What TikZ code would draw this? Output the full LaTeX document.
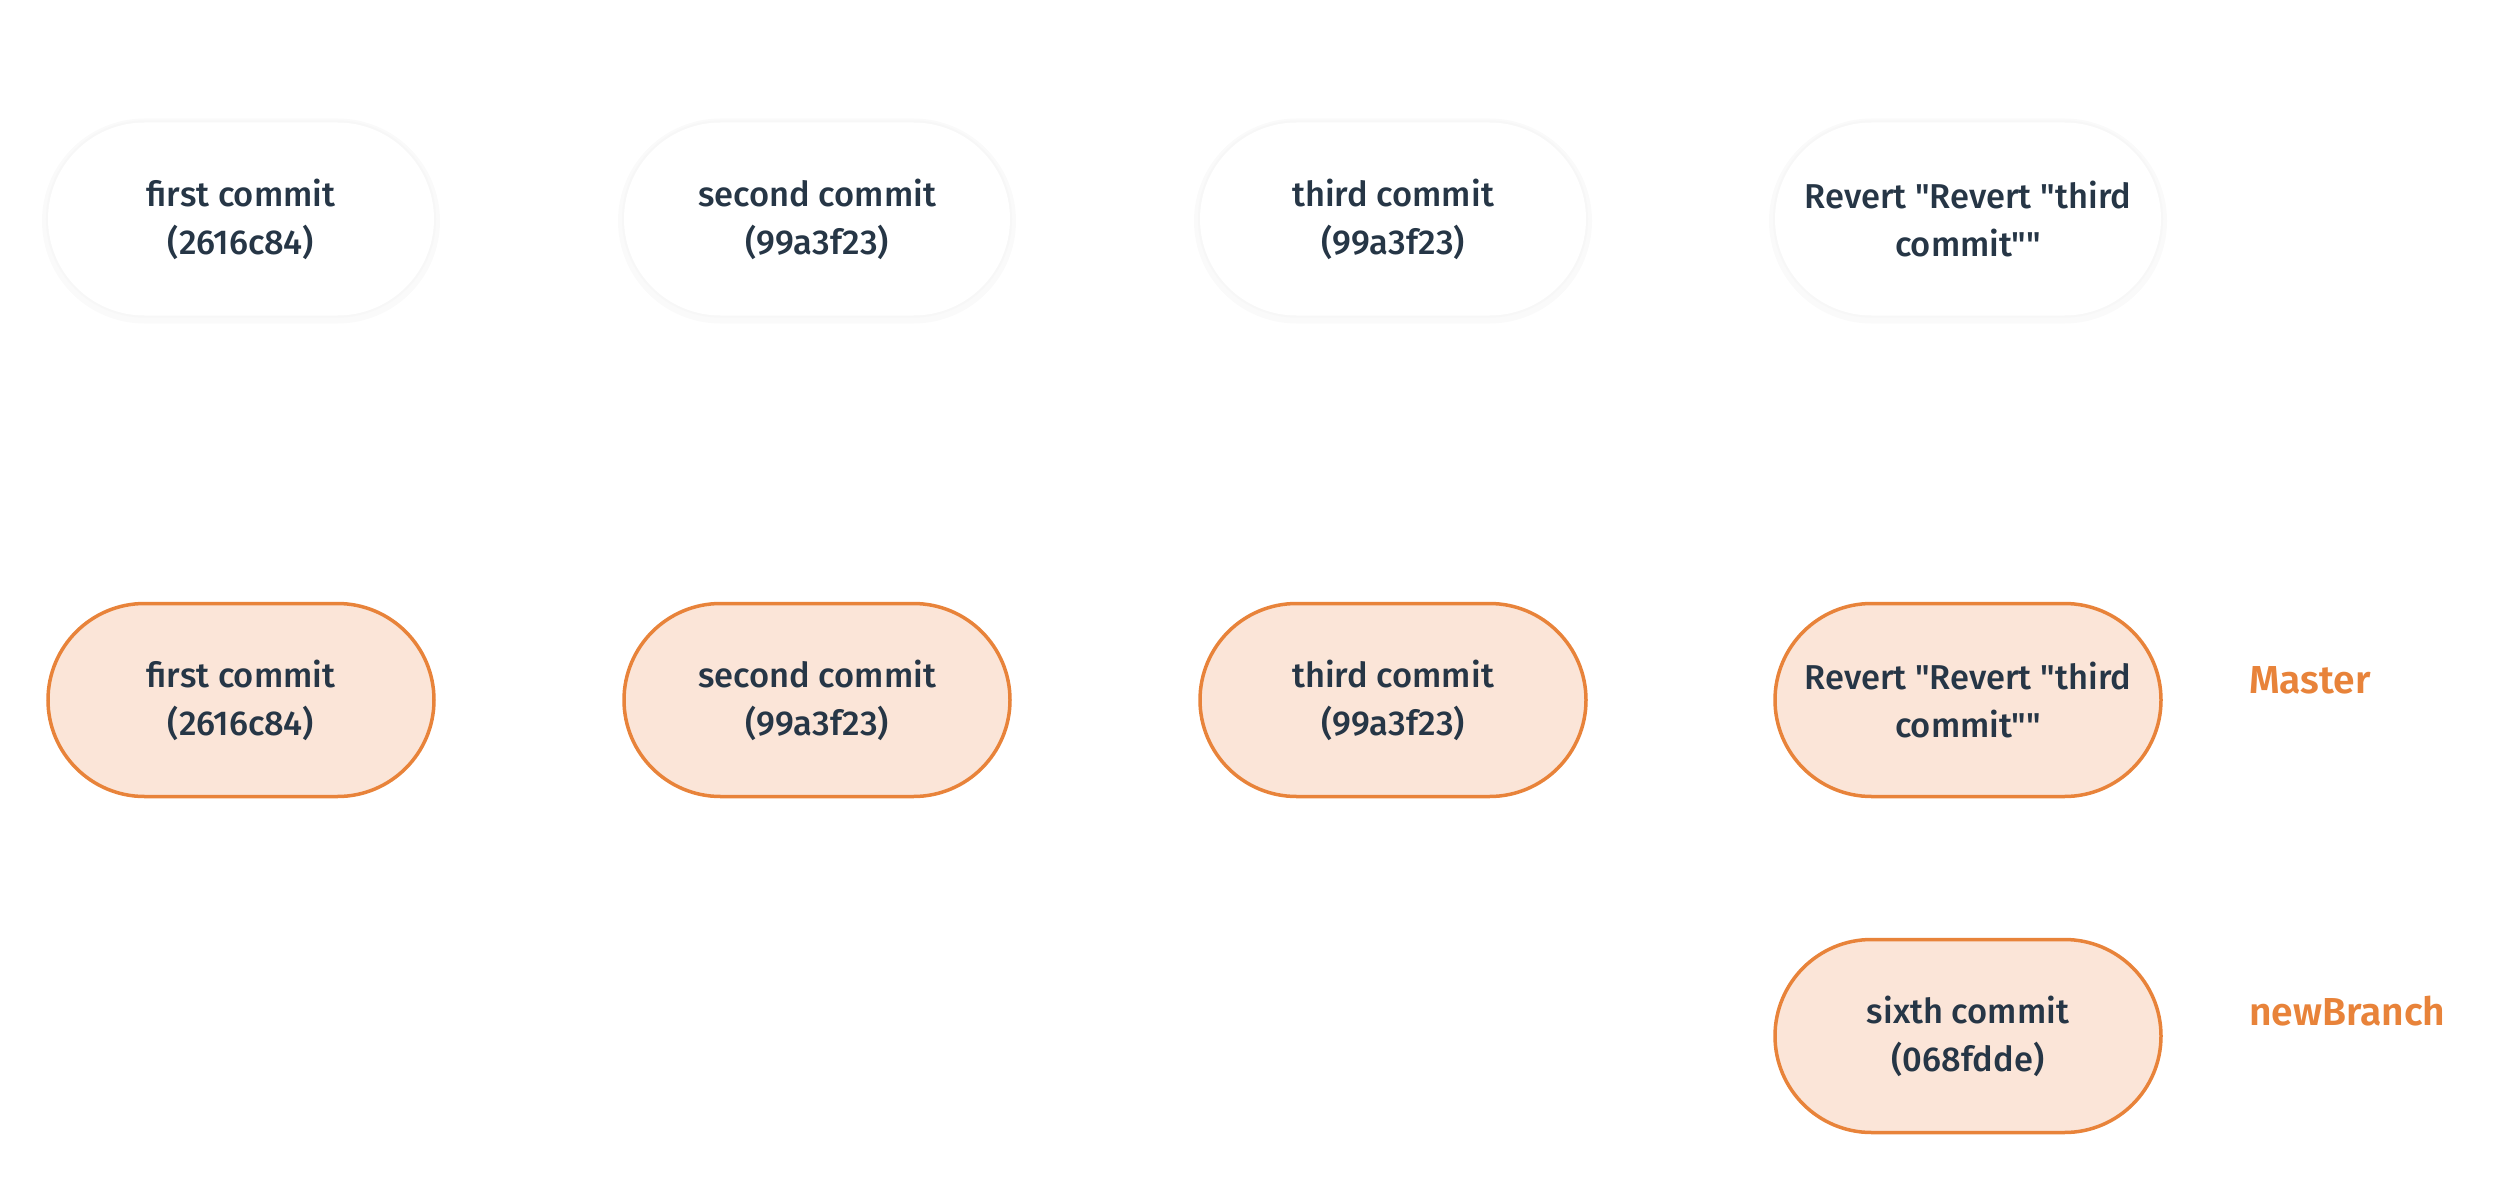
\documentclass[tikz,border=0pt]{standalone}
\usepackage{fontspec}
\newfontfamily\cfont{Fira Sans Medium}
\newfontfamily\lfont{Fira Sans SemiBold}
\usetikzlibrary{shapes.misc}
\definecolor{orng}{HTML}{E8833A}
\definecolor{peach}{HTML}{FBE5D8}
\definecolor{ink}{HTML}{263646}
\definecolor{ghostA}{HTML}{FAFAFA}
\definecolor{ghostB}{HTML}{F7F7F7}
\tikzset{
  commit/.style={rounded rectangle, minimum width=386pt, minimum height=193pt,
    align=center, text=ink, font=\cfont\fontsize{34.5}{48}\selectfont, inner sep=0pt},
  active/.style={commit, draw=orng, fill=peach, line width=3.5pt},
  faded/.style={commit, fill=white,
    preaction={draw=ghostA, line width=12pt, transform canvas={yshift=-2pt}},
    preaction={draw=ghostB, line width=4pt}},
  branchlbl/.style={anchor=base west, text=orng, font=\lfont\fontsize{39}{48}\selectfont, inner sep=0pt}
}
\begin{document}
\begin{tikzpicture}[x=1pt,y=-1pt]
\useasboundingbox (0,0) rectangle (2504,1180);
% faded top row
\node[faded] (f1) at (241,219) {first commit\\(2616c84)};
\node[faded] (f2) at (817,219) {second commit\\(99a3f23)};
\node[faded] (f3) at (1393,219) {third commit\\(99a3f23)};
\node[faded] (f4) at (1968,219) {Revert "Revert "third\\commit""};
% active row
\node[active] (c1) at (241,700) {first commit\\(2616c84)};
\node[active] (c2) at (817,700) {second commit\\(99a3f23)};
\node[active] (c3) at (1393,700) {third commit\\(99a3f23)};
\node[active] (c4) at (1968,700) {Revert "Revert "third\\commit""};
\node[active] (c6) at (1968,1036) {sixth commit\\(068fdde)};
% branch labels
\node[branchlbl] (master) at (2249,693) {Master};
\node[branchlbl] (nb) at (2249,1025) {newBranch};
\end{tikzpicture}
\end{document}
